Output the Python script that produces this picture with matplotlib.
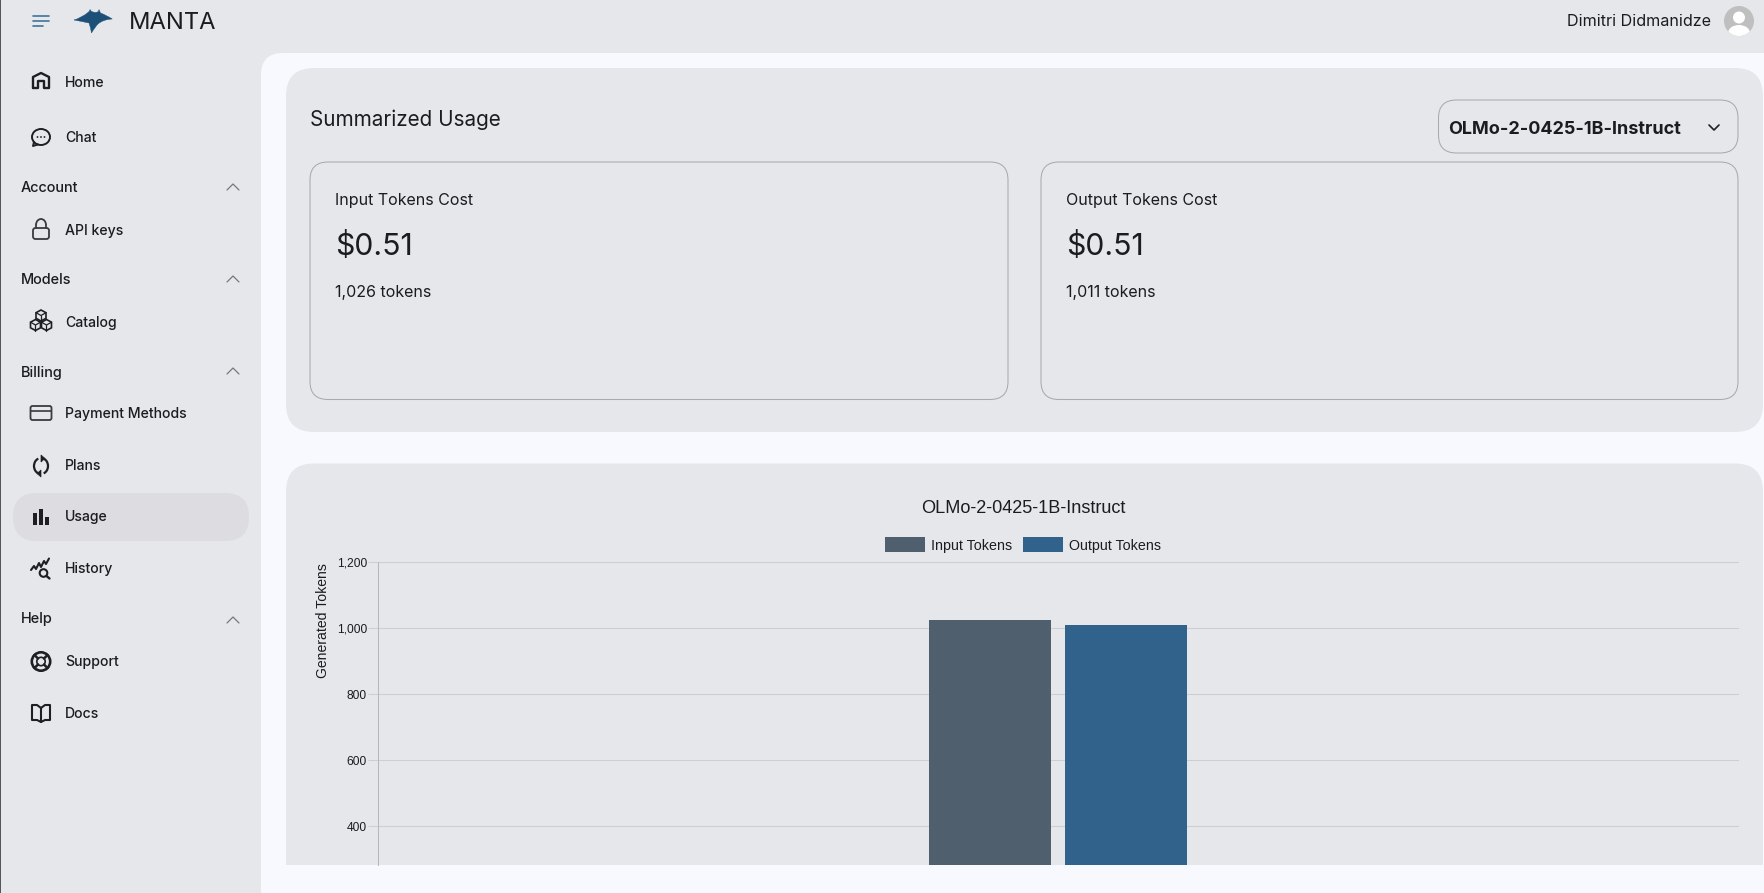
import matplotlib
matplotlib.use("Agg")
import matplotlib.pyplot as plt
import numpy as np
from matplotlib.patches import FancyBboxPatch, Rectangle, Circle, Ellipse, Arc, Polygon, PathPatch
from matplotlib.path import Path
from matplotlib.ticker import FixedLocator, FixedFormatter

# ---- data ----
categories = ["OLMo-2-0425-1B-Instruct"]
series_names = ["Input Tokens", "Output Tokens"]
input_tokens = [1026]
output_tokens = [1011]
y_ticks = [400, 600, 800, 1000, 1200]
y_tick_labels = ["400", "600", "800", "1,000", "1,200"]
y_label = "Generated Tokens"
input_cost = "$0.51"
output_cost = "$0.51"
input_count = "1,026 tokens"
output_count = "1,011 tokens"

W, H = 1765, 893
BG = "#E6E7EB"
MAIN = "#F8F9FE"
INK = "#1B1C1F"
EDGE = "#A9AAAD"
C_IN = "#505F6E"
C_OUT = "#31628C"
UI = "Inter"
CH = "Liberation Sans"
def px(v):
    return v * 0.72

fig = plt.figure(figsize=(W / 100, H / 100), dpi=100, facecolor=BG)
ui = fig.add_axes([0, 0, 1, 1], zorder=0)
ui.set_xlim(0, W)
ui.set_ylim(H, 0)
ui.axis("off")

def rrect(x0, y0, x1, y1, r, fc="none", ec="none", lw=0, z=1):
    p = FancyBboxPatch((x0 + r, y0 + r), x1 - x0 - 2 * r, y1 - y0 - 2 * r,
                       boxstyle=f"round,pad={r},rounding_size={r}", fc=fc, ec=ec, lw=lw, zorder=z)
    ui.add_patch(p)

def txt(x, y, s, size, weight="normal", color=INK, ha="left", family=UI, z=5):
    ui.text(x, y + 1.5, s, fontsize=px(size), fontweight=weight, color=color, ha=ha, va="center",
            family=family, zorder=z)

def line(xs, ys, color=INK, lw=1.6, z=5):
    ui.plot(xs, ys, color=color, lw=lw, solid_capstyle="round", solid_joinstyle="round", zorder=z)

# page chrome
ui.add_patch(Rectangle((0, 0), 1.5, H, fc="#55565A", ec="none", zorder=6))
rrect(261, 53, W + 60, H + 60, 22, fc=MAIN)
rrect(286, 68, 1763, 432, 28, fc=BG, z=2)
rrect(286, 463.5, 1763, 930, 28, fc=BG, z=2)
ui.add_patch(Rectangle((262, 864.5), W - 262, 30, fc=MAIN, ec="none", zorder=3))

# header
for yy, x1 in ((16, 49), (21, 49), (26, 43)):
    line([33, x1], [yy, yy], color="#3F739C", lw=1.2)
M, C, Z = Path.MOVETO, Path.CURVE3, Path.CLOSEPOLY
L_ = Path.LINETO
logo_v = [(74, 20), (81, 18), (88, 12.5), (89.5, 11), (90, 9.5), (91.5, 11.5), (93, 12), (96, 12.5), (98.5, 11.5),
          (99, 9.5), (100.5, 13), (106, 15), (112.3, 19), (103, 19.5), (98, 24), (95, 27), (91.5, 33),
          (90.5, 27), (89, 23), (82, 21.5), (74, 20)]
logo_c = [M, C, C, L_, L_, L_, L_, L_, L_, L_, L_, C, C, C, C, C, C, C, C, C, C]
ui.add_patch(PathPatch(Path(logo_v, logo_c), fc="#1C5078", ec="#1C5078", lw=0.3, zorder=5))
txt(129, 21.5, "MANTA", 23.7)
txt(1711, 20.5, "Dimitri Didmanidze", 16.1, ha="right")
av = Circle((1739, 21), 15, fc="#BFBFBF", ec="none", zorder=5)
ui.add_patch(av)
ui.add_patch(Circle((1739, 17.5), 6, fc="white", ec="none", zorder=6))
b = Ellipse((1739, 33), 22, 16, fc="white", ec="none", zorder=6)
ui.add_patch(b)
b.set_clip_path(av)

# sidebar
rrect(13, 493, 249, 541, 24, fc="#DDDCE0", z=2)
for label, y in [("Home", 81.5), ("Chat", 137), ("API keys", 229), ("Catalog", 321), ("Payment Methods", 412.5),
                 ("Plans", 465), ("Usage", 516), ("History", 568), ("Support", 660.5), ("Docs", 713)]:
    txt(65, y, label, 14.1, weight="medium")
for label, y in [("Account", 187), ("Models", 279), ("Billing", 371), ("Help", 618)]:
    txt(21, y, label, 14.5, weight="medium")
    cy = y if y != 618 else 620
    line([227, 233, 239], [cy + 3, cy - 3, cy + 3], color="#77787C", lw=0.9)

IC = "#1E1F22"
# home
line([33, 33, 41, 49, 49, 44, 44, 38, 38, 33], [88, 77, 73, 77, 88, 88, 81, 81, 88, 88], IC, 1.7)
# chat
ui.add_patch(Ellipse((41, 137), 18, 16, fc="none", ec=IC, lw=1.4, zorder=5))
line([34, 33, 38], [142, 146, 144.5], IC, 1.4)
for dx in (-3.5, 0, 3.5):
    ui.add_patch(Circle((41 + dx, 137), 0.9, fc=IC, ec="none", zorder=5))
# lock
rrect(33, 228, 49, 239, 2.5, ec="#3A3B3E", lw=1.3, z=5)
ui.add_patch(Arc((41, 225), 10, 12, theta1=180, theta2=360, ec="#3A3B3E", lw=1.3, zorder=5))
line([36, 36], [225, 228], "#3A3B3E", 1.3)
line([46, 46], [225, 228], "#3A3B3E", 1.3)
# catalog
for cx, cy in ((41, 315.5), (35.5, 325), (46.5, 325)):
    ui.add_patch(Polygon([(cx, cy - 5.5), (cx + 5, cy - 2.8), (cx + 5, cy + 2.8), (cx, cy + 5.5), (cx - 5, cy + 2.8), (cx - 5, cy - 2.8)],
                         closed=True, fc="none", ec=IC, lw=1.2, zorder=5))
    line([cx - 5, cx, cx + 5], [cy - 2.8, cy, cy - 2.8], IC, 0.9)
    line([cx, cx], [cy, cy + 5.5], IC, 0.9)
# payment
rrect(30.5, 406, 51.5, 420, 2, ec="#3A3B3E", lw=1.3, z=5)
line([31, 51], [410.5, 410.5], "#3A3B3E", 1.2)
# plans
ui.add_patch(Arc((41, 466), 14, 16, theta1=110, theta2=250, ec=IC, lw=1.6, zorder=5))
ui.add_patch(Arc((41, 466), 14, 16, theta1=-70, theta2=70, ec=IC, lw=1.6, zorder=5))
ui.add_patch(Polygon([(41, 455), (45, 458.5), (41, 462)], closed=True, fc=IC, ec=IC, lw=0.5, zorder=5))
ui.add_patch(Polygon([(41, 470), (37, 473.5), (41, 477)], closed=True, fc=IC, ec=IC, lw=0.5, zorder=5))
# usage
for x0, y0 in ((33, 513), (39, 509), (45, 517)):
    ui.add_patch(Rectangle((x0, y0), 4, 525 - y0, fc=IC, ec="none", zorder=5))
# history
line([31, 34, 36, 39, 41, 44, 46, 49], [570, 566, 569, 563, 567, 561, 564, 558.5], IC, 1.5)
ui.add_patch(Circle((43.5, 573), 3.8, fc="none", ec=IC, lw=1.5, zorder=5))
line([46.5, 49.5], [576, 578.5], IC, 1.7)
# support
ui.add_patch(Circle((41, 661.5), 9.2, fc="none", ec=IC, lw=1.9, zorder=5))
ui.add_patch(Circle((41, 661.5), 4.2, fc="none", ec=IC, lw=1.2, zorder=5))
for a in (45, 135, 225, 315):
    c, s = np.cos(np.radians(a)), np.sin(np.radians(a))
    line([41 + 4.2 * c, 41 + 9.2 * c], [661.5 + 4.2 * s, 661.5 + 9.2 * s], IC, 1.8)
# docs
line([41, 41], [708, 722], IC, 1.5)
line([41, 37, 32, 32, 37, 41, 45, 50, 50, 45, 41], [708, 705, 705, 720, 720, 722, 720, 720, 705, 705, 708], IC, 1.5)

# summary block
txt(310, 118.5, "Summarized Usage", 20.7)
rrect(1438.5, 100, 1738, 153, 18, ec=EDGE, lw=0.75, z=4)
txt(1448.5, 127.5, categories[0], 18, weight="bold")
line([1709, 1714, 1719], [125, 130, 125], IC, 1.2)
for x0, x1, name, cost, count in ((310, 1008, "Input Tokens Cost", input_cost, input_count),
                                  (1041, 1738, "Output Tokens Cost", output_cost, output_count)):
    rrect(x0, 162, x1, 399.5, 18, ec=EDGE, lw=0.75, z=4)
    txt(x0 + 25, 198.5, name, 16)
    txt(x0 + 25, 245, cost, 30.2)
    txt(x0 + 25, 290.5, count, 16)

# chart: pixel box of the plot area
L, R, T, B = 378, 1739, 562.4, 864.5
ax = fig.add_axes([L / W, 1 - B / H, (R - L) / W, (B - T) / H], zorder=1)
ax.patch.set_alpha(0)
x = np.arange(len(categories))
bar_w = 122 / (R - L)
off = 68 / (R - L)
ax.bar(x - off, input_tokens, bar_w, color=C_IN, label=series_names[0], zorder=3)
ax.bar(x + off, output_tokens, bar_w, color=C_OUT, label=series_names[1], zorder=3)
ax.set_xlim(-0.5, 0.5)
ax.set_ylim(1200 - (B - T) * 200 / 66, 1200)
ax.yaxis.set_major_locator(FixedLocator(y_ticks))
ax.yaxis.set_major_formatter(FixedFormatter(y_tick_labels))
ax.set_xticks([])
ax.grid(axis="y", color="#CDCED2", lw=0.75, zorder=1)
ax.tick_params(axis="y", length=7, width=0.75, color="#CDCED2", pad=1, labelsize=px(12), labelcolor=INK)
for lbl in ax.get_yticklabels():
    lbl.set_family(CH)
for s in ("top", "right", "bottom"):
    ax.spines[s].set_visible(False)
ax.spines["left"].set_color("#B6B7BA")
ax.spines["left"].set_linewidth(0.72)
ax.text((323.5 - L) / (R - L), (B - 621) / (B - T), y_label, rotation=90, fontsize=px(14), family=CH,
        color=INK, ha="center", va="center", transform=ax.transAxes, clip_on=False)
ax.text((1023.5 - L) / (R - L), (B - 508.5) / (B - T), categories[0], fontsize=px(18.1), family=CH, color=INK,
        ha="center", va="center", transform=ax.transAxes, clip_on=False)
leg = ax.legend(loc="center", bbox_to_anchor=((1023 - L) / (R - L), (B - 545) / (B - T)), ncol=2, frameon=False,
                prop={"family": CH, "size": px(14.3)}, handlelength=2.82, handleheight=1.2, columnspacing=0.71,
                handletextpad=0.43, borderpad=0, borderaxespad=0)
for t in leg.get_texts():
    t.set_color(INK)

fig.savefig("out.png", dpi=100, facecolor=BG)
